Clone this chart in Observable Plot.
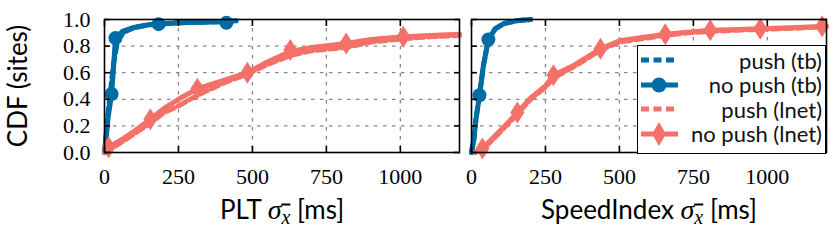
<!DOCTYPE html>
<html>
<head>
<meta charset="utf-8">
<script src="https://cdn.jsdelivr.net/npm/d3@7"></script>
<script src="https://cdn.jsdelivr.net/npm/@observablehq/plot@0.6"></script>
<style>
  body { margin: 0; background: #fff; }
  #wrap { position: relative; width: 831px; height: 246px; }
  #legend {
    position: absolute; left: 637px; top: 45px; width: 187px; height: 105px;
    background: #fff; border: 1.5px solid #000; box-sizing: content-box;
    font-family: Lato, "Open Sans", sans-serif; font-size: 22px; color: #111;
  }
  .row { display: flex; align-items: center; height: 24.5px; padding-right: 3px; }
  .row svg { flex: none; margin-left: 1px; }
  .row span { flex: 1; text-align: right; white-space: nowrap; }
  #chart svg g[aria-label="y-axis label"] text { font-family: Lato, "Open Sans", sans-serif !important; font-size: 26px !important; }
  .tk { font-family: "Liberation Serif", "DejaVu Serif", serif; font-size: 22px; }
</style>
</head>
<body>
<div id="wrap"><div id="chart"></div><div id="legend"></div></div>
<script>
const panels = ["PLT", "SpeedIndex"];
const seriesNames = ["push (tb)", "no push (tb)", "push (lnet)", "no push (lnet)"];
const blue = "#006BA4", red = "#F4716A";
const xTicks = [0, 250, 500, 750, 1000];
const yTicks = [0, 0.2, 0.4, 0.6, 0.8, 1.0];
const xGrid = [250, 500, 750, 1000];
const yGrid = [0.2, 0.4, 0.6, 0.8];

// PLT panel
const pltPushTbX   = [0, 5, 12, 20, 30, 45, 70, 100, 150, 190, 250, 330, 415, 445];
const pltPushTbY   = [0, 0.12, 0.3, 0.45, 0.66, 0.85, 0.91, 0.94, 0.96, 0.97, 0.975, 0.98, 0.985, 0.99];
const pltNoPushTbX = [0, 5, 12, 24, 30, 37, 60, 100, 150, 183, 250, 330, 412, 445];
const pltNoPushTbY = [0, 0.1, 0.26, 0.44, 0.62, 0.86, 0.91, 0.94, 0.96, 0.965, 0.975, 0.98, 0.985, 0.99];
const pltNoPushTbMarkX = [24, 37, 183, 412];
const pltNoPushTbMarkY = [0.44, 0.86, 0.965, 0.975];

const pltPushNetX   = [0, 14, 60, 100, 155, 200, 250, 314, 400, 483, 550, 628, 700, 817, 900, 1010, 1100, 1200];
const pltPushNetY   = [0, 0.02, 0.08, 0.14, 0.22, 0.3, 0.35, 0.43, 0.52, 0.59, 0.66, 0.73, 0.765, 0.79, 0.83, 0.855, 0.87, 0.88];
const pltNoPushNetX = [0, 14, 60, 100, 155, 200, 250, 314, 400, 483, 550, 628, 700, 817, 900, 1010, 1100, 1200];
const pltNoPushNetY = [0, 0.04, 0.1, 0.16, 0.25, 0.33, 0.4, 0.48, 0.54, 0.6, 0.68, 0.76, 0.79, 0.82, 0.85, 0.87, 0.88, 0.89];
const pltNoPushNetMarkX = [14, 155, 314, 483, 628, 817, 1010];
const pltNoPushNetMarkY = [0.04, 0.25, 0.48, 0.6, 0.77, 0.82, 0.87];

// SpeedIndex panel
const siPushTbX   = [0, 8, 15, 27, 40, 57, 80, 110, 150, 200];
const siPushTbY   = [0, 0.1, 0.25, 0.43, 0.65, 0.85, 0.93, 0.97, 0.99, 1.0];
const siNoPushTbX = [0, 8, 15, 27, 40, 57, 80, 110, 150, 200];
const siNoPushTbY = [0, 0.1, 0.25, 0.43, 0.65, 0.85, 0.93, 0.97, 0.99, 1.0];
const siNoPushTbMarkX = [27, 57];
const siNoPushTbMarkY = [0.43, 0.85];

const siPushNetX   = [12, 37, 100, 155, 200, 250, 277, 350, 436, 500, 560, 655, 730, 807, 900, 976, 1100, 1200];
const siPushNetY   = [0, 0.02, 0.16, 0.29, 0.4, 0.49, 0.56, 0.65, 0.77, 0.83, 0.85, 0.88, 0.9, 0.91, 0.92, 0.925, 0.935, 0.945];
const siNoPushNetX = [12, 37, 100, 155, 200, 250, 277, 350, 436, 500, 560, 655, 730, 807, 900, 976, 1100, 1200];
const siNoPushNetY = [0, 0.03, 0.17, 0.3, 0.41, 0.5, 0.58, 0.66, 0.78, 0.84, 0.86, 0.89, 0.905, 0.92, 0.925, 0.93, 0.94, 0.95];
const siNoPushNetMarkX = [37, 155, 277, 436, 655, 807, 976, 1185];
const siNoPushNetMarkY = [0.03, 0.3, 0.58, 0.78, 0.89, 0.92, 0.93, 0.95];

function rows(panel, series, xs, ys) {
  return xs.map((x, i) => ({panel, series, x, y: ys[i]}));
}
const pushTb = [...rows("PLT", seriesNames[0], pltPushTbX, pltPushTbY), ...rows("SpeedIndex", seriesNames[0], siPushTbX, siPushTbY)];
const noPushTb = [...rows("PLT", seriesNames[1], pltNoPushTbX, pltNoPushTbY), ...rows("SpeedIndex", seriesNames[1], siNoPushTbX, siNoPushTbY)];
const noPushTbMarks = [...rows("PLT", seriesNames[1], pltNoPushTbMarkX, pltNoPushTbMarkY), ...rows("SpeedIndex", seriesNames[1], siNoPushTbMarkX, siNoPushTbMarkY)];
const pushNet = [...rows("PLT", seriesNames[2], pltPushNetX, pltPushNetY), ...rows("SpeedIndex", seriesNames[2], siPushNetX, siPushNetY)];
const noPushNet = [...rows("PLT", seriesNames[3], pltNoPushNetX, pltNoPushNetY), ...rows("SpeedIndex", seriesNames[3], siNoPushNetX, siNoPushNetY)];
const noPushNetMarks = [...rows("PLT", seriesNames[3], pltNoPushNetMarkX, pltNoPushNetMarkY), ...rows("SpeedIndex", seriesNames[3], siNoPushNetMarkX, siNoPushNetMarkY)];

const thinDiamond = {
  draw(ctx) { ctx.moveTo(0, -11); ctx.lineTo(7, 0); ctx.lineTo(0, 11); ctx.lineTo(-7, 0); ctx.closePath(); }
};

const serif = "Liberation Serif";
const sans = "Lato";
const xLabels = [{panel: "PLT", t: "PLT"}, {panel: "SpeedIndex", t: "SpeedIndex"}];

const chart = Plot.plot({
  width: 831, height: 246,
  marginLeft: 104, marginRight: 5, marginTop: 19, marginBottom: 94,
  style: {fontSize: "20px", color: "#000", background: "#fff"},
  fx: {domain: panels, axis: null, padding: 0.0327},
  x: {domain: [0, 1200], label: null},
  y: {domain: [0, 1], label: null},
  marks: [
    Plot.gridX(xGrid, {stroke: "#888", strokeOpacity: 1, strokeWidth: 1.3, strokeDasharray: "3.5,5.5"}),
    Plot.gridY(yGrid, {stroke: "#888", strokeOpacity: 1, strokeWidth: 1.3, strokeDasharray: "3.5,5.5"}),
    Plot.line(pushTb, {fx: "panel", x: "x", y: "y", stroke: blue, strokeWidth: 5, strokeDasharray: "8,4.5"}),
    Plot.line(noPushTb, {fx: "panel", x: "x", y: "y", stroke: blue, strokeWidth: 5}),
    Plot.dot(noPushTbMarks, {fx: "panel", x: "x", y: "y", r: 7, fill: blue}),
    Plot.line(pushNet, {fx: "panel", x: "x", y: "y", stroke: red, strokeWidth: 5, strokeDasharray: "8,4.5"}),
    Plot.line(noPushNet, {fx: "panel", x: "x", y: "y", stroke: red, strokeWidth: 5}),
    Plot.dot(noPushNetMarks, {fx: "panel", x: "x", y: "y", symbol: thinDiamond, r: 6, fill: red}),
    Plot.frame({stroke: "#000", strokeWidth: 1.6}),
    Plot.axisX({ticks: xTicks, tickSize: -6, fill: "none", strokeWidth: 1.6, label: null}),
    Plot.axisX({anchor: "top", ticks: xTicks, tickSize: -6, fill: "none", strokeWidth: 1.6, label: null}),
    Plot.axisY({ticks: yTicks, tickSize: -6, fill: "none", strokeWidth: 1.6, label: null, facetAnchor: null}),
    Plot.axisY({anchor: "right", ticks: yTicks, tickSize: -6, fill: "none", strokeWidth: 1.6, label: null, facetAnchor: null}),
    Plot.text(xTicks, {x: d => d, text: d => String(d), frameAnchor: "bottom", lineAnchor: "top", dy: 16, className: "tk", fontFamily: serif, fontSize: 22, fill: "#000"}),
    Plot.text(yTicks, {y: d => d, text: d => d.toFixed(1), frameAnchor: "left", textAnchor: "end", dx: -14, className: "tk", fontFamily: serif, fontSize: 22, fill: "#000", facetAnchor: "left"}),
    Plot.axisY({ticks: [], tickSize: 0, fill: "#000", label: "CDF (sites)", labelAnchor: "center", labelOffset: 96, labelArrow: "none"}),
    Plot.text(xLabels, {fx: "panel", text: d => d.t + " σx̄ [ms]", frameAnchor: "bottom", dy: 66, fontFamily: sans, fontSize: 26, fill: "#000"})
  ]
});
document.getElementById("chart").appendChild(chart);

// Style the sigma with an overlined x subscript
d3.select(chart).selectAll("text").each(function() {
  const s = this.textContent;
  if (!s.includes("[ms]")) return;
  const name = s.split(" σ")[0];
  const el = d3.select(this);
  el.text(null);
  el.append("tspan").text(name + " ");
  el.append("tspan").attr("font-family", serif).attr("font-style", "italic").attr("font-size", 28).text("σ");
  el.append("tspan").attr("font-family", serif).attr("font-style", "italic")
    .attr("font-size", 20).attr("dy", 5).attr("text-decoration", "overline").text("x");
  el.append("tspan").attr("dy", -5).text(" [ms]");
});

// Legend
const legendItems = [
  {name: seriesNames[0], color: blue, dash: "8,4.5", marker: null},
  {name: seriesNames[1], color: blue, dash: null, marker: "circle"},
  {name: seriesNames[2], color: red, dash: "8,4.5", marker: null},
  {name: seriesNames[3], color: red, dash: null, marker: "diamond"}
];
const legend = d3.select("#legend");
legend.style("padding-top", "2px");
for (const it of legendItems) {
  const row = legend.append("div").attr("class", "row");
  const svg = row.append("svg").attr("width", 40).attr("height", 24).style("overflow", "visible");
  svg.append("line").attr("x1", 2).attr("x2", 39).attr("y1", 12).attr("y2", 12)
    .attr("stroke", it.color).attr("stroke-width", 5).attr("stroke-dasharray", it.dash);
  if (it.marker === "circle") svg.append("circle").attr("cx", 20).attr("cy", 12).attr("r", 7.5).attr("fill", it.color);
  if (it.marker === "diamond") svg.append("path").attr("d", "M20,0L27,12L20,24L13,12Z").attr("fill", it.color);
  row.append("span").text(it.name);
}
</script>
</body>
</html>
